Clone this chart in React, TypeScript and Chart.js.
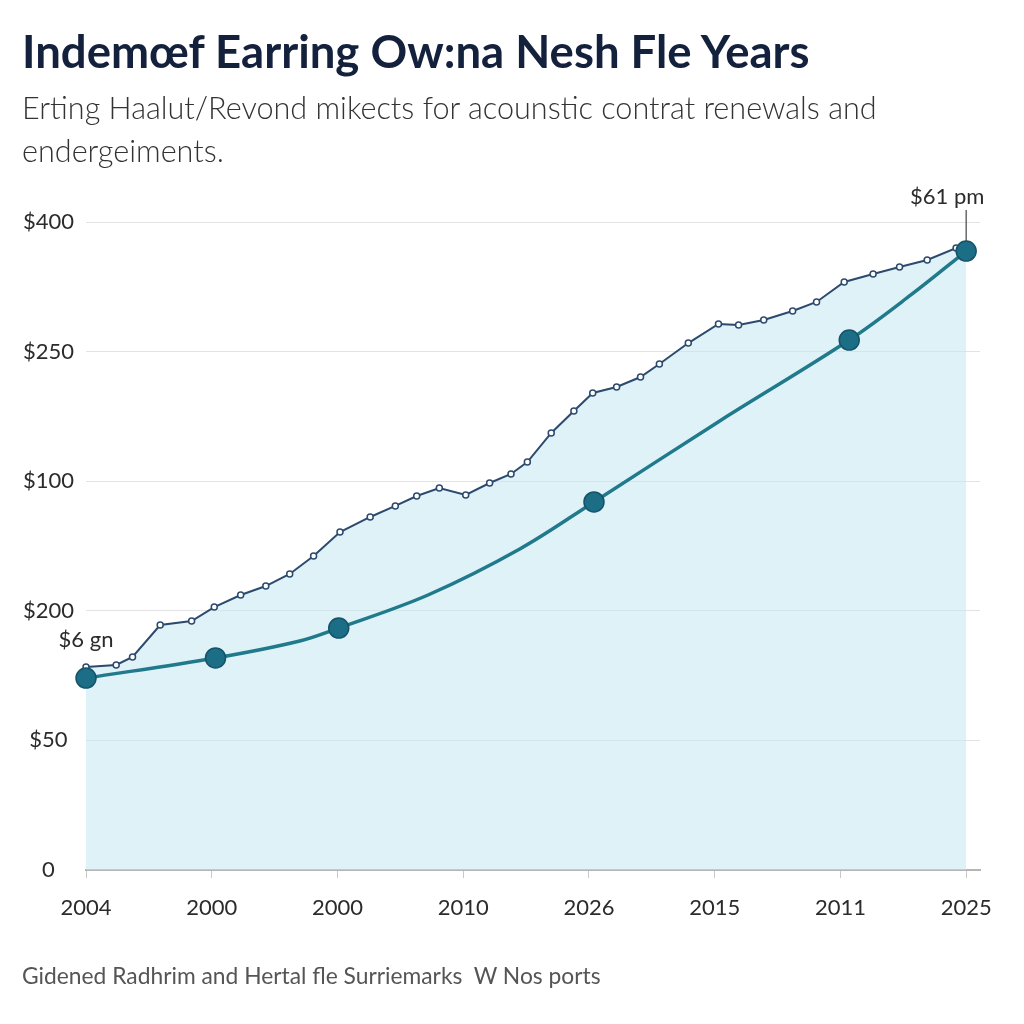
import React, { useEffect, useRef } from "react";
import { Chart, registerables } from "chart.js";

Chart.register(...registerables);

const TITLE = "Indemœf Earring Ow:na Nesh Fle Years";
const SUBTITLE_LINES = [
  "Erting Haalut/Revond mikects for acounstic contrat renewals and",
  "endergeiments.",
];
const FOOTER = "Gidened Radhrim and Hertal fle Surriemarks  W Nos ports";

const xTickLabels = ["2004", "2000", "2000", "2010", "2026", "2015", "2011", "2025"];
const yTickValues = [0, 100, 200, 300, 400, 500];
const yTickLabels = ["0", "$50", "$200", "$100", "$250", "$400"];

// thin navy series (x in tick-index units, y in axis units)
const navyX = [0, 0.24, 0.37, 0.59, 0.84, 1.02, 1.23, 1.43, 1.62, 1.81, 2.02, 2.26, 2.46, 2.63, 2.81, 3.02, 3.21, 3.38, 3.51, 3.7, 3.88, 4.03, 4.22, 4.41, 4.56, 4.79, 5.03, 5.19, 5.39, 5.62, 5.81, 6.03, 6.26, 6.47, 6.69, 6.92, 7.0];
const navyY = [156.6, 158.2, 164.4, 189.0, 192.1, 202.9, 212.2, 219.1, 228.4, 242.3, 260.8, 272.4, 280.9, 288.6, 294.8, 289.4, 298.6, 305.6, 314.8, 337.2, 354.2, 368.1, 372.7, 380.4, 390.4, 406.6, 421.3, 420.5, 424.4, 431.3, 438.3, 453.7, 459.9, 465.3, 470.7, 479.9, 477.6];

// thick teal trend curve
const tealX = [0, 1.03, 1.7, 2.01, 2.72, 3.45, 4.04, 5.04, 6.07, 6.56, 7.0];
const tealY = [148.1, 163.6, 176.7, 186.7, 212.2, 247.7, 284.0, 346.5, 408.9, 443.7, 477.6];

// highlighted milestones on the teal curve
const milestoneX = [0, 1.03, 2.01, 4.04, 6.07, 7.0];
const milestoneY = [148.1, 163.6, 186.7, 284.0, 408.9, 477.6];

const startLabel = "$6 gn";
const endLabel = "$61 pm";

const FONT = "Lato, 'Open Sans', sans-serif";

const annotationPlugin = {
  id: "pointLabels",
  afterDatasetsDraw(chart: any) {
    const ctx = chart.ctx;
    const meta = chart.getDatasetMeta(0);
    const first = meta.data[0];
    const last = meta.data[meta.data.length - 1];
    ctx.save();
    ctx.fillStyle = "#2b2b2b";
    ctx.font = `400 22px ${FONT}`;
    ctx.textAlign = "center";
    ctx.textBaseline = "middle";
    ctx.fillText(startLabel, first.x, first.y - 38);
    ctx.fillText(endLabel, last.x - 19, last.y - 54);
    ctx.strokeStyle = "#444";
    ctx.lineWidth = 1.2;
    ctx.beginPath();
    ctx.moveTo(last.x, last.y - 41);
    ctx.lineTo(last.x, last.y - 9);
    ctx.stroke();
    ctx.restore();
  },
};

export default function App() {
  const canvasRef = useRef<HTMLCanvasElement | null>(null);

  useEffect(() => {
    document.body.style.margin = "0";
    const canvas = canvasRef.current;
    if (!canvas) return;
    const chart = new Chart(canvas, {
      type: "line",
      data: {
        datasets: [
          {
            label: "milestones",
            data: milestoneX.map((x, i) => ({ x, y: milestoneY[i] })),
            showLine: false,
            clip: false,
            pointRadius: 10,
            pointBackgroundColor: "#1c6e86",
            pointBorderColor: "#15536a",
            pointBorderWidth: 1.5,
          },
          {
            label: "trend",
            data: tealX.map((x, i) => ({ x, y: tealY[i] })),
            borderColor: "#217a8c",
            borderWidth: 3.5,
            pointRadius: 0,
            tension: 0.35,
            fill: false,
            clip: false,
          },
          {
            label: "actual",
            data: navyX.map((x, i) => ({ x, y: navyY[i] })),
            borderColor: "#2c4a6d",
            borderWidth: 2,
            backgroundColor: "rgba(192, 230, 241, 0.52)",
            fill: "origin",
            clip: false,
            pointRadius: navyX.map((_, i) => (i === navyX.length - 1 ? 0 : 3)),
            pointBackgroundColor: "#ffffff",
            pointBorderColor: "#2c4a6d",
            pointBorderWidth: 1.5,
            tension: 0,
          },
        ],
      },
      options: {
        responsive: false,
        animation: false,
        devicePixelRatio: 1,
        layout: { padding: { left: 22, right: 44, top: 222, bottom: 94 } },
        plugins: {
          legend: { display: false },
          tooltip: { enabled: false },
        },
        scales: {
          x: {
            type: "linear",
            min: 0,
            max: 7.11,
            afterBuildTicks: (scale: any) => {
              scale.ticks = xTickLabels.map((_, i) => ({ value: i }));
            },
            afterFit: (scale: any) => {
              scale.height = 60;
            },
            ticks: {
              callback: (v: any) => xTickLabels[Math.round(Number(v))] ?? "",
              font: { family: FONT, size: 22 },
              color: "#2b2b2b",
              padding: 17,
              maxRotation: 0,
              autoSkip: false,
            },
            grid: {
              display: true,
              drawOnChartArea: false,
              drawTicks: true,
              tickLength: 8,
              color: "#c9c9c9",
            },
            border: { display: true, color: "#b5b5b5", width: 2 },
          },
          y: {
            type: "linear",
            min: 0,
            max: 500,
            afterBuildTicks: (scale: any) => {
              scale.ticks = yTickValues.map((v) => ({ value: v }));
            },
            afterFit: (scale: any) => {
              scale.width = 64;
            },
            ticks: {
              callback: (v: any) => yTickLabels[yTickValues.indexOf(Number(v))] ?? "",
              font: { family: FONT, size: 22 },
              color: "#2b2b2b",
              crossAlign: "center",
              padding: 12,
            },
            grid: { color: "#e3e3e3", lineWidth: 1, drawTicks: false },
            border: { display: false },
          },
        },
      },
      plugins: [annotationPlugin],
    });
    return () => chart.destroy();
  }, []);

  return (
    <div style={{ position: "relative", width: 1024, height: 1024, background: "#ffffff", overflow: "hidden" }}>
      <canvas ref={canvasRef} width={1024} height={1024} style={{ position: "absolute", left: 0, top: 0 }} />
      <div
        style={{
          position: "absolute",
          left: 22,
          top: 26,
          fontFamily: FONT,
          fontWeight: 700,
          fontSize: 45.5,
          lineHeight: "50px",
          color: "#14213d",
          whiteSpace: "nowrap",
        }}
      >
        {TITLE}
      </div>
      <div
        style={{
          position: "absolute",
          left: 22,
          top: 86,
          fontFamily: FONT,
          fontWeight: 300,
          fontSize: 30.6,
          lineHeight: "43px",
          color: "#333333",
          whiteSpace: "nowrap",
        }}
      >
        {SUBTITLE_LINES.map((l, i) => (
          <div key={i}>{l}</div>
        ))}
      </div>
      <div
        style={{
          position: "absolute",
          left: 22,
          top: 960,
          fontFamily: FONT,
          fontWeight: 400,
          fontSize: 22.8,
          lineHeight: "30px",
          color: "#555555",
          whiteSpace: "pre",
        }}
      >
        {FOOTER}
      </div>
    </div>
  );
}
